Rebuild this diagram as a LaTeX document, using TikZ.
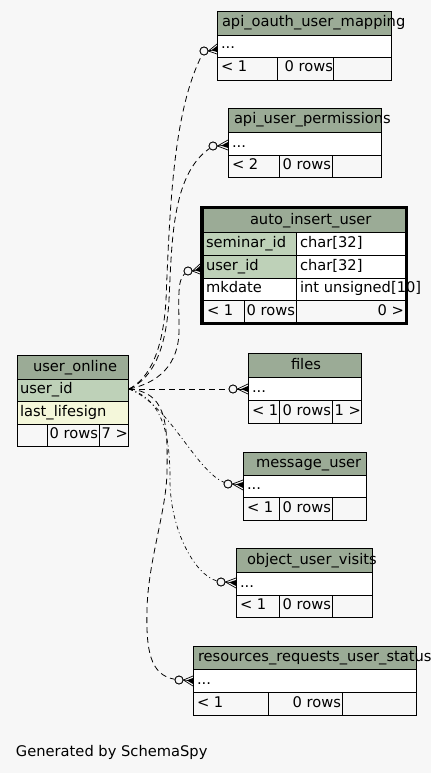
\documentclass[tikz,border=0pt]{standalone}
\usepackage{fontspec}
\setmainfont{DejaVu Sans}
\usetikzlibrary{calc}
\definecolor{bgc}{HTML}{F7F7F7}
\definecolor{hdr}{HTML}{9BAB96}
\definecolor{keyc}{HTML}{BED1B8}
\definecolor{idxc}{HTML}{F4F7DA}
\tikzset{
  cellst/.style={draw=black, line width=0.9pt},
  txt/.style={inner sep=0pt, outer sep=0pt, font=\fontsize{14.67}{17}\selectfont, text=black},
  rel/.style={line width=0.8pt, dash pattern=on 6pt off 4pt},
  reldot/.style={line width=0.7pt, dash pattern=on 4pt off 3pt on 1pt off 3pt},
  odot/.style={circle, draw=black, line width=0.8pt, fill=bgc, minimum size=8pt, inner sep=0pt},
  prong/.style={line width=0.7pt},
}
\newcommand\cellr[5]{\filldraw[cellst, fill=#5] (#1,#2) rectangle (#3,#4);}
\newcommand\tx[4]{\node[txt, anchor=#2] (#1) at (#3) {#4};}
\newcommand\crowf[2]{%
  \draw[prong] (#1.east) -- (#2);
  \draw[prong] (#1.east) -- ($(#2)+(0,-5)$);
  \draw[prong] (#1.east) -- ($(#2)+(0,5)$);
  \fill ($(#1.east)!0.35!(#2)$) -- ($(#2)+(0,-3)$) -- ($(#2)+(0,3)$) -- cycle;}
\begin{document}
\begin{tikzpicture}[x=1pt, y=-1pt]
\useasboundingbox (0,0) rectangle (431,773);
\fill[bgc] (0,0) rectangle (431,773);

% ---------- connectors ----------
\coordinate (uo) at (129,389);
\node[odot] (c1) at (204,51) {};
\node[odot] (c2) at (213,146) {};
\node[odot] (c3) at (188,271) {};
\node[odot] (c4) at (233,389) {};
\node[odot] (c5) at (228,484) {};
\node[odot] (c6) at (221,582) {};
\node[odot] (c7) at (179,680) {};
\coordinate (t1) at (217,49);
\coordinate (t2) at (228,145);
\coordinate (t3) at (200,269);
\coordinate (t4) at (248,389);
\coordinate (t5) at (243,485);
\coordinate (t6) at (236,583);
\coordinate (t7) at (193,681);

\draw[rel] (uo) .. controls (150,378) and (163,350) .. (166,300)
               .. controls (170,200) and (174,110) .. (c1);
\draw[rel] (uo) .. controls (153,378) and (166,350) .. (169,300)
               .. controls (172,240) and (172,175) .. (c2);
\draw[rel] (uo) .. controls (158,383) and (179,365) .. (179,330)
               .. controls (179,300) and (177,280) .. (c3);
\draw[rel] (uo) -- (c4);
\draw[reldot] (uo) .. controls (170,405) and (195,470) .. (c5);
\draw[reldot] (uo) .. controls (165,400) and (170,440) .. (170,480)
                  .. controls (170,530) and (195,575) .. (c6);
\draw[rel] (uo) .. controls (165,392) and (168,420) .. (167,470)
               .. controls (167,510) and (148,560) .. (147,610)
               .. controls (146,650) and (150,675) .. (c7);

% re-draw circles on top of lines
\node[odot] at (c1) {};
\node[odot] at (c2) {};
\node[odot] at (c3) {};
\node[odot] at (c4) {};
\node[odot] at (c5) {};
\node[odot] at (c6) {};
\node[odot] at (c7) {};

% ---------- api_oauth_user_mapping ----------
\cellr{217}{11}{391}{35}{hdr}
\cellr{217}{35}{391}{57}{white}
\cellr{217}{57}{277}{80}{bgc}
\cellr{277}{57}{333}{80}{bgc}
\cellr{333}{57}{391}{80}{bgc}
\tx{a1h}{base west}{222,27}{api\_oauth\_user\_mapping}
\tx{a1r}{base west}{221,49}{...}
\tx{a1f1}{base west}{221,72}{< 1}
\tx{a1f2}{base east}{333,72}{0 rows}

% ---------- api_user_permissions ----------
\cellr{228}{108}{381}{132}{hdr}
\cellr{228}{132}{381}{155}{white}
\cellr{228}{155}{279}{177}{bgc}
\cellr{279}{155}{332}{177}{bgc}
\cellr{332}{155}{381}{177}{bgc}
\tx{a2h}{base west}{234,124}{api\_user\_permissions}
\tx{a2r}{base west}{232,147}{...}
\tx{a2f1}{base west}{232,169}{< 2}
\tx{a2f2}{base east}{331,169}{0 rows}

% ---------- auto_insert_user ----------
\cellr{203}{208}{405}{232}{hdr}
\cellr{203}{232}{296}{255}{keyc}
\cellr{296}{232}{405}{255}{white}
\cellr{203}{255}{296}{278}{keyc}
\cellr{296}{255}{405}{278}{white}
\cellr{203}{278}{296}{300}{white}
\cellr{296}{278}{405}{300}{white}
\cellr{203}{300}{244}{323}{bgc}
\cellr{244}{300}{296}{323}{bgc}
\cellr{296}{300}{405}{323}{bgc}
\tx{a3h}{base west}{250,224}{auto\_insert\_user}
\tx{a3c1}{base west}{206,247}{seminar\_id}
\tx{a3t1}{base west}{300,247}{char[32]}
\tx{a3c2}{base west}{206,270}{user\_id}
\tx{a3t2}{base west}{300,270}{char[32]}
\tx{a3c3}{base west}{206,292}{mkdate}
\tx{a3t3}{base west}{300,292}{int unsigned[10]}
\tx{a3f1}{base west}{207,315}{< 1}
\tx{a3f2}{base east}{295,315}{0 rows}
\tx{a3f3}{base east}{404,315}{0 >}
\draw[line width=2.6pt] (201.3,207.3) rectangle (406.7,323.7);

% ---------- user_online ----------
\cellr{17}{355}{128}{379}{hdr}
\cellr{17}{379}{128}{401}{keyc}
\cellr{17}{401}{128}{424}{idxc}
\cellr{17}{424}{47}{446}{bgc}
\cellr{47}{424}{99}{446}{bgc}
\cellr{99}{424}{128}{446}{bgc}
\tx{uoh}{base west}{33,371}{user\_online}
\tx{uoc1}{base west}{20,393}{user\_id}
\tx{uoc2}{base west}{20,416}{last\_lifesign}
\tx{uof2}{base east}{98,438}{0 rows}
\tx{uof3}{base east}{128,438}{7 >}

% ---------- files ----------
\cellr{248}{353}{361}{377}{hdr}
\cellr{248}{377}{361}{400}{white}
\cellr{248}{400}{279}{423}{bgc}
\cellr{279}{400}{332}{423}{bgc}
\cellr{332}{400}{361}{423}{bgc}
\tx{fh}{base west}{291,369}{files}
\tx{fr}{base west}{252,392}{...}
\tx{ff1}{base west}{252,415}{< 1}
\tx{ff2}{base east}{331,415}{0 rows}
\tx{ff3}{base east}{361,415}{1 >}

% ---------- message_user ----------
\cellr{243}{452}{366}{475}{hdr}
\cellr{243}{475}{366}{497}{white}
\cellr{243}{497}{279}{520}{bgc}
\cellr{279}{497}{332}{520}{bgc}
\cellr{332}{497}{366}{520}{bgc}
\tx{mh}{base west}{256,467}{message\_user}
\tx{mr}{base west}{247,489}{...}
\tx{mf1}{base west}{247,512}{< 1}
\tx{mf2}{base east}{331,512}{0 rows}

% ---------- object_user_visits ----------
\cellr{236}{548}{372}{572}{hdr}
\cellr{236}{572}{372}{595}{white}
\cellr{236}{595}{279}{617}{bgc}
\cellr{279}{595}{332}{617}{bgc}
\cellr{332}{595}{372}{617}{bgc}
\tx{oh}{base west}{247,564}{object\_user\_visits}
\tx{or}{base west}{240,587}{...}
\tx{of1}{base west}{240,609}{< 1}
\tx{of2}{base east}{331,609}{0 rows}

% ---------- resources_requests_user_status ----------
\cellr{193}{646}{416}{669}{hdr}
\cellr{193}{669}{416}{692}{white}
\cellr{193}{692}{268}{715}{bgc}
\cellr{268}{692}{342}{715}{bgc}
\cellr{342}{692}{416}{715}{bgc}
\tx{rh}{base west}{198,661}{resources\_requests\_user\_status}
\tx{rr}{base west}{197,684}{...}
\tx{rf1}{base west}{197,707}{< 1}
\tx{rf2}{base east}{341,707}{0 rows}

% ---------- crow feet ----------
\crowf{c1}{t1}
\crowf{c2}{t2}
\crowf{c3}{t3}
\crowf{c4}{t4}
\crowf{c5}{t5}
\crowf{c6}{t6}
\crowf{c7}{t7}

\tx{gen}{base west}{16,756}{Generated by SchemaSpy}
\end{tikzpicture}
\end{document}
